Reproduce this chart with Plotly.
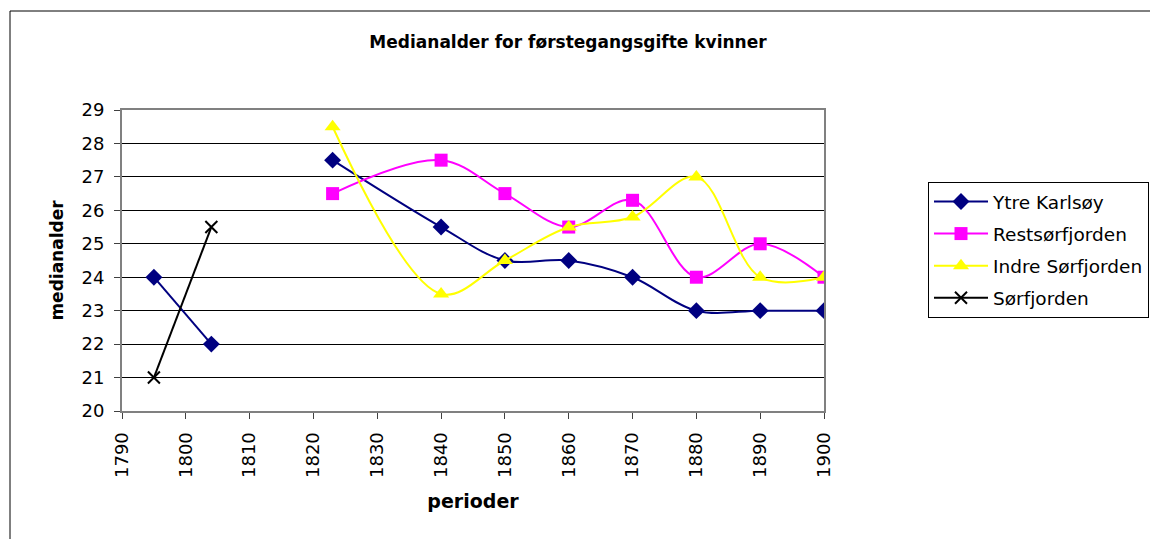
import plotly.graph_objects as go

years_early = [1795, 1804]
years_late = [1823, 1840, 1850, 1860, 1870, 1880, 1890, 1900]

ytre_karlsoy_early = [24, 22]
ytre_karlsoy_late = [27.5, 25.5, 24.5, 24.5, 24, 23, 23, 23]
restsorfjorden = [26.5, 27.5, 26.5, 25.5, 26.3, 24, 25, 24]
indre_sorfjorden = [28.5, 23.5, 24.5, 25.5, 25.8, 27, 24, 24]
sorfjorden = [21, 25.5]

x_ticks = list(range(1790, 1901, 10))
y_ticks = list(range(20, 30))

FONT = "DejaVu Sans, Arial, sans-serif"

fig = go.Figure()

fig.add_trace(go.Scatter(
    x=years_early + [None] + years_late,
    y=ytre_karlsoy_early + [None] + ytre_karlsoy_late,
    name="Ytre Karlsøy", mode="lines+markers", legendgroup="a",
    line=dict(color="#000080", width=2, shape="spline", smoothing=1),
    marker=dict(symbol="diamond", size=13, color="#000080"),
    connectgaps=False,
))
fig.add_trace(go.Scatter(
    x=years_late, y=restsorfjorden, name="Restsørfjorden", mode="lines+markers",
    legendgroup="b",
    line=dict(color="#FF00FF", width=2, shape="spline", smoothing=1),
    marker=dict(symbol="square", size=13, color="#FF00FF"),
))
fig.add_trace(go.Scatter(
    x=years_late, y=indre_sorfjorden, name="Indre Sørfjorden", mode="lines+markers",
    legendgroup="c",
    line=dict(color="#FFFF00", width=2, shape="spline", smoothing=1),
    marker=dict(symbol="triangle-up", size=14, color="#FFFF00"),
))
fig.add_trace(go.Scatter(
    x=years_early, y=sorfjorden, name="Sørfjorden", mode="lines+markers",
    legendgroup="d",
    line=dict(color="#000000", width=2),
    marker=dict(symbol="x-thin", size=12, line=dict(color="#000000", width=2)),
))

fig.update_layout(
    width=1150, height=539,
    margin=dict(l=122, r=326, t=110, b=128),
    paper_bgcolor="white", plot_bgcolor="white",
    font=dict(family=FONT, color="black", size=18),
    title=dict(text="<b>Medianalder for førstegangsgifte kvinner</b>",
               font=dict(size=17, family=FONT), x=568 / 1150, xanchor="center",
               y=1 - 42 / 539, yanchor="middle"),
    legend=dict(xref="container", yref="container",
                x=928 / 1150, y=1 - 182 / 539, xanchor="left", yanchor="top",
                bordercolor="black", borderwidth=1, bgcolor="white",
                font=dict(size=18.5, family=FONT), tracegroupgap=5, traceorder="grouped",
                itemwidth=54),
    showlegend=True,
    shapes=[dict(type="rect", xref="paper", yref="paper",
                 x0=(10 - 122) / 702, x1=2.0, y0=-1.0, y1=(411 - 11) / 301,
                 line=dict(color="black", width=1), fillcolor="rgba(0,0,0,0)", layer="below")],
)

fig.update_xaxes(
    range=[1790, 1900], tickvals=x_ticks, ticktext=[str(v) for v in x_ticks],
    tickangle=-90, ticks="outside", ticklen=6, tickcolor="#404040",
    ticklabelstandoff=6,
    showline=True, linecolor="#808080", linewidth=2, mirror=True,
    showgrid=False, zeroline=False,
    title=dict(text="<b>perioder</b>", font=dict(size=19, family=FONT), standoff=18),
)
fig.update_yaxes(
    range=[20, 29], tickvals=y_ticks, ticks="outside", ticklen=6, tickcolor="#404040",
    ticklabelstandoff=6,
    showline=True, linecolor="#808080", linewidth=2, mirror=True,
    showgrid=True, gridcolor="black", gridwidth=1, zeroline=False,
    title=dict(text="<b>medianalder</b>", font=dict(size=17, family=FONT), standoff=14),
)

fig.write_html("out.html", config={"displayModeBar": False},
               post_script="document.body.style.margin='0px';")
